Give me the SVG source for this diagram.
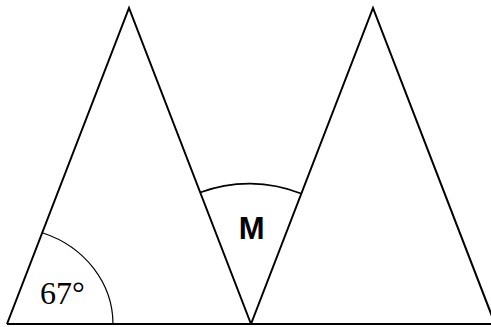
<svg xmlns="http://www.w3.org/2000/svg" width="491" height="327" viewBox="0 0 491 327">
<style>
.edge{fill:none;stroke:#000;stroke-width:2;stroke-linejoin:miter}
.arc{fill:none;stroke:#000}
.serif{font-family:"Liberation Serif","Times New Roman",serif;font-size:32px;fill:#000}
.sans{font-family:"Liberation Sans",Arial,sans-serif;font-size:31px;font-weight:bold;fill:#000}
</style>
<rect width="491" height="327" fill="#fff"/>
<g id="connectors">
<line class="edge" x1="7" y1="324" x2="491" y2="324"/>
</g>
<g id="triangle-left">
<polyline class="edge" points="7,324 129,8 251,324"/>
</g>
<g id="triangle-right">
<polyline class="edge" points="251,324 373,8 495,324"/>
</g>
<g id="angle-67">
<path class="arc" stroke-width="1.2" d="M43,233 A106,97 0 0 1 113,324"/>
<text class="serif" x="40" y="304">67°</text>
</g>
<g id="angle-M">
<path class="arc" stroke-width="1.8" d="M200,192.5 A140,140 0 0 1 301,193.5"/>
<text class="sans" x="251.7" y="239.3" text-anchor="middle">M</text>
</g>
</svg>
